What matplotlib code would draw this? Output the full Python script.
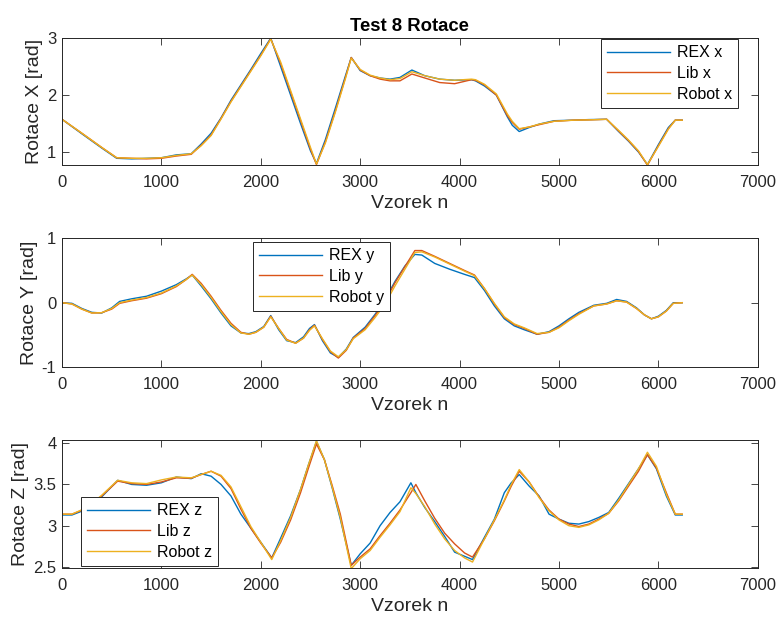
import numpy as np
import matplotlib.pyplot as plt

plt.rcParams['font.family'] = ['Liberation Sans', 'DejaVu Sans']
plt.rcParams['axes.unicode_minus'] = False

# ---- Rotace X ----
n_x = [0, 200, 400, 550, 700, 850, 1000, 1150, 1300,
       1400, 1500, 1600, 1700, 1800, 1900, 2000, 2100,
       2200, 2300, 2400, 2500, 2560,
       2650, 2750, 2850, 2910,
       3000, 3100, 3200, 3300, 3400, 3520, 3650, 3800, 3950,
       4120, 4160, 4250, 4370, 4480, 4530, 4600,
       4700, 4800, 4950, 5150, 5300, 5480,
       5600, 5700, 5800, 5890,
       6000, 6100, 6170, 6240]
rex_x = [1.575, 1.32, 1.07, 0.89, 0.88, 0.89, 0.90, 0.95, 0.97,
         1.14, 1.33, 1.60, 1.91, 2.18, 2.45, 2.73, 3.00,
         2.50, 2.00, 1.50, 1.02, 0.80,
         1.22, 1.77, 2.33, 2.66,
         2.43, 2.34, 2.30, 2.28, 2.31, 2.44, 2.34, 2.28, 2.26,
         2.27, 2.25, 2.16, 2.00, 1.62, 1.47, 1.36,
         1.43, 1.49, 1.55, 1.56, 1.57, 1.575,
         1.36, 1.19, 1.00, 0.78,
         1.13, 1.43, 1.56, 1.56]
lib_x = [1.575, 1.33, 1.08, 0.90, 0.89, 0.88, 0.89, 0.93, 0.96,
         1.12, 1.30, 1.59, 1.89, 2.16, 2.43, 2.70, 2.99,
         2.55, 2.05, 1.55, 1.05, 0.78,
         1.18, 1.72, 2.30, 2.66,
         2.44, 2.34, 2.28, 2.25, 2.25, 2.37, 2.30, 2.22, 2.20,
         2.27, 2.26, 2.18, 2.00, 1.64, 1.52, 1.40,
         1.44, 1.48, 1.54, 1.56, 1.565, 1.575,
         1.37, 1.20, 1.01, 0.77,
         1.11, 1.41, 1.56, 1.56]
robot_x = [1.575, 1.33, 1.08, 0.90, 0.89, 0.89, 0.90, 0.94, 0.97,
           1.11, 1.29, 1.58, 1.88, 2.15, 2.42, 2.69, 2.98,
           2.58, 2.08, 1.58, 1.08, 0.79,
           1.16, 1.70, 2.28, 2.65,
           2.45, 2.35, 2.30, 2.27, 2.29, 2.41, 2.34, 2.28, 2.26,
           2.28, 2.27, 2.19, 2.02, 1.67, 1.54, 1.41,
           1.44, 1.49, 1.54, 1.56, 1.565, 1.575,
           1.38, 1.21, 1.02, 0.78,
           1.10, 1.40, 1.56, 1.56]

# ---- Rotace Y ----
n_y = [0, 100, 200, 300, 400, 500, 580,
       700, 850, 1000, 1150, 1250, 1310,
       1400, 1500, 1600, 1700, 1800, 1880, 1950, 2030, 2100,
       2180, 2260, 2350, 2430, 2490, 2540,
       2620, 2700, 2780, 2860, 2930,
       3050, 3150, 3250, 3350, 3450, 3550, 3620,
       3750, 3900, 4050, 4150,
       4250, 4350, 4450, 4550, 4650, 4780,
       4900, 5000, 5100, 5200, 5350, 5480,
       5580, 5680, 5780, 5860, 5930,
       6000, 6080, 6150, 6240]
rex_y = [0.0, -0.01, -0.09, -0.15, -0.16, -0.08, 0.02,
         0.06, 0.10, 0.18, 0.28, 0.37, 0.43,
         0.26, 0.06, -0.16, -0.36, -0.47, -0.48, -0.45, -0.37, -0.20,
         -0.42, -0.59, -0.62, -0.53, -0.40, -0.34,
         -0.59, -0.78, -0.85, -0.72, -0.54,
         -0.38, -0.18, 0.05, 0.33, 0.57, 0.75, 0.74,
         0.61, 0.52, 0.44, 0.39,
         0.19, -0.05, -0.25, -0.36, -0.42, -0.49,
         -0.45, -0.36, -0.25, -0.15, -0.04, -0.01,
         0.05, 0.02, -0.08, -0.19, -0.25,
         -0.21, -0.12, 0.0, 0.0]
lib_y = [0.0, -0.02, -0.10, -0.16, -0.155, -0.10, -0.01,
         0.03, 0.07, 0.14, 0.25, 0.36, 0.44,
         0.30, 0.10, -0.12, -0.32, -0.46, -0.49, -0.46, -0.38, -0.21,
         -0.40, -0.57, -0.63, -0.55, -0.42, -0.35,
         -0.57, -0.76, -0.86, -0.74, -0.55,
         -0.40, -0.20, 0.02, 0.31, 0.56, 0.81, 0.81,
         0.72, 0.61, 0.50, 0.43,
         0.22, -0.02, -0.23, -0.34, -0.40, -0.49,
         -0.46, -0.38, -0.27, -0.17, -0.05, -0.02,
         0.03, 0.01, -0.09, -0.19, -0.25,
         -0.22, -0.13, -0.01, 0.0]
robot_y = [0.0, -0.02, -0.10, -0.16, -0.155, -0.09, 0.0,
           0.04, 0.08, 0.15, 0.26, 0.36, 0.43,
           0.28, 0.08, -0.14, -0.34, -0.47, -0.49, -0.46, -0.38, -0.22,
           -0.40, -0.58, -0.63, -0.55, -0.43, -0.36,
           -0.56, -0.75, -0.84, -0.73, -0.56,
           -0.42, -0.23, -0.02, 0.26, 0.52, 0.78, 0.79,
           0.71, 0.60, 0.49, 0.42,
           0.22, -0.01, -0.22, -0.33, -0.39, -0.48,
           -0.46, -0.39, -0.28, -0.18, -0.05, -0.02,
           0.03, 0.01, -0.09, -0.19, -0.25,
           -0.22, -0.13, -0.01, 0.0]

# ---- Rotace Z ----
n_z = [0, 100, 250, 400, 560, 700, 850, 1000, 1150, 1300,
       1400, 1500, 1600, 1700, 1800, 1900, 2000, 2110,
       2200, 2300, 2400, 2480, 2560, 2640, 2720, 2800, 2910,
       3000, 3100, 3200, 3300, 3400, 3510, 3560,
       3650, 3750, 3850, 3950, 4050, 4130,
       4250, 4350, 4450, 4520, 4600,
       4700, 4800, 4900, 5000, 5100, 5200,
       5300, 5400, 5500, 5600,
       5700, 5800, 5890, 5980, 6080, 6170, 6240]
rex_z = [3.13, 3.13, 3.20, 3.35, 3.55, 3.50, 3.49, 3.52, 3.59, 3.57,
         3.63, 3.60, 3.50, 3.36, 3.14, 2.97, 2.80, 2.61,
         2.85, 3.12, 3.44, 3.74, 4.02, 3.80, 3.45, 3.08, 2.52,
         2.66, 2.79, 3.00, 3.16, 3.29, 3.52, 3.40,
         3.22, 3.05, 2.87, 2.68, 2.63, 2.59,
         2.86, 3.08, 3.40, 3.52, 3.62,
         3.48, 3.36, 3.14, 3.08, 3.03, 3.02,
         3.05, 3.10, 3.16, 3.33,
         3.51, 3.69, 3.86, 3.69, 3.36, 3.13, 3.13]
lib_z = [3.14, 3.14, 3.21, 3.36, 3.54, 3.51, 3.50, 3.53, 3.58, 3.575,
         3.62, 3.66, 3.60, 3.45, 3.20, 2.97, 2.79, 2.61,
         2.80, 3.07, 3.40, 3.70, 3.99, 3.80, 3.48, 3.14, 2.52,
         2.62, 2.72, 2.88, 3.03, 3.19, 3.40, 3.50,
         3.30, 3.09, 2.91, 2.78, 2.67, 2.62,
         2.84, 3.06, 3.30, 3.48, 3.66,
         3.53, 3.35, 3.19, 3.08, 3.02, 2.99,
         3.02, 3.08, 3.15, 3.30,
         3.48, 3.66, 3.86, 3.70, 3.40, 3.14, 3.14]
robot_z = [3.14, 3.14, 3.22, 3.37, 3.55, 3.52, 3.51, 3.555, 3.59, 3.58,
           3.62, 3.66, 3.61, 3.47, 3.23, 2.99, 2.80, 2.59,
           2.82, 3.10, 3.44, 3.74, 4.03, 3.80, 3.46, 3.10, 2.48,
           2.60, 2.70, 2.86, 3.01, 3.17, 3.46, 3.39,
           3.23, 3.02, 2.84, 2.70, 2.61, 2.56,
           2.84, 3.07, 3.31, 3.50, 3.68,
           3.53, 3.34, 3.18, 3.07, 3.00, 2.98,
           3.01, 3.07, 3.15, 3.31,
           3.50, 3.69, 3.89, 3.72, 3.38, 3.14, 3.14]

blue, red, yellow = '#0072BD', '#D95319', '#EDB120'
dark = '#262626'

fig = plt.figure(figsize=(7.8, 6.19), dpi=100)
positions = [[0.0795, 0.7334, 0.892, 0.205],
             [0.0795, 0.407, 0.892, 0.208],
             [0.0795, 0.0824, 0.892, 0.207]]
panels = [
    (n_x, rex_x, lib_x, robot_x, 'x', 'Rotace X [rad]', (0.772, 3.0), [1, 2, 3], (0.7705, 0.937)),
    (n_y, rex_y, lib_y, robot_y, 'y', 'Rotace Y [rad]', (-1, 1), [-1, 0, 1], (0.3244, 0.609)),
    (n_z, rex_z, lib_z, robot_z, 'z', 'Rotace Z [rad]', (2.488, 4.04), [2.5, 3, 3.5, 4], (0.1038, 0.197)),
]

for i, (n, rex, lib, rob, c, ylab, ylim, yt, legpos) in enumerate(panels):
    ax = fig.add_axes(positions[i])
    ax.plot(n, rex, color=blue, lw=1.0, label='REX ' + c)
    ax.plot(n, lib, color=red, lw=1.0, label='Lib ' + c)
    ax.plot(n, rob, color=yellow, lw=1.0, label='Robot ' + c)
    ax.set_xlim(0, 7000)
    ax.set_ylim(*ylim)
    ax.set_yticks(yt)
    ax.set_yticklabels([('%g' % v) for v in yt])
    ax.set_xticks(range(0, 7001, 1000))
    ax.set_xlabel('Vzorek n', fontsize=14, color=dark)
    ax.set_ylabel(ylab, fontsize=14, color=dark, labelpad=3)
    ax.tick_params(direction='in', top=True, right=True, length=5, width=0.6,
                   colors=dark, labelsize=12)
    ax.tick_params(axis='x', pad=7)
    ax.tick_params(axis='y', pad=4)
    for s in ax.spines.values():
        s.set_color(dark)
        s.set_linewidth(0.7)
    leg = ax.legend(loc='upper left', bbox_to_anchor=legpos, bbox_transform=fig.transFigure,
                    borderaxespad=0, fontsize=11.5, handlelength=3.9, handletextpad=0.45,
                    borderpad=0.4, labelspacing=0.35, fancybox=False, framealpha=1)
    leg.get_frame().set_edgecolor(dark)
    leg.get_frame().set_linewidth(0.7)
    if i == 0:
        ax.set_title('Test 8 Rotace', fontsize=13.3, fontweight='bold', pad=5)

fig.savefig('out.png', dpi=100)
